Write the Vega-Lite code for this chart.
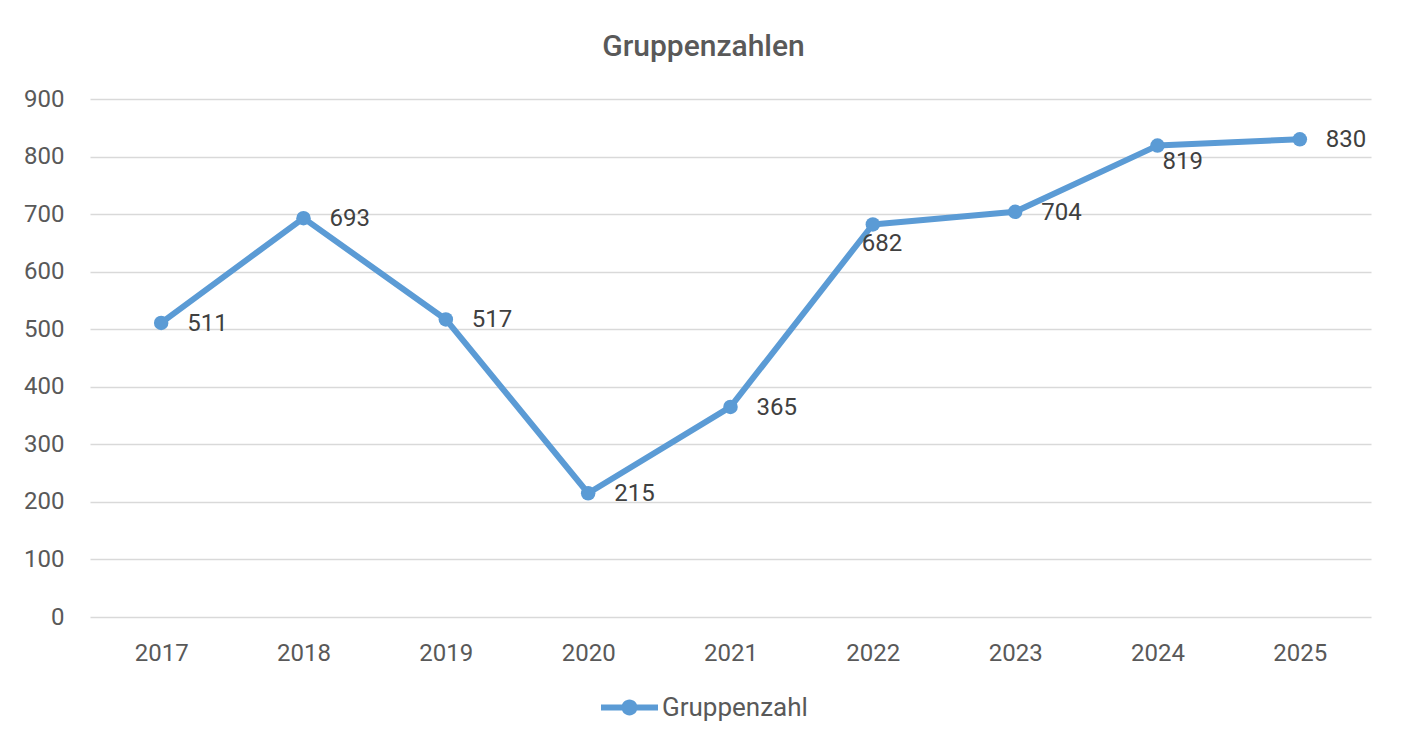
{
  "$schema": "https://vega.github.io/schema/vega-lite/v6.json",
  "autosize": {"type": "none"},
  "width": 1281,
  "height": 518,
  "padding": {"left": 90, "top": 99, "right": 34, "bottom": 127},
  "background": "white",
  "config": {
    "font": "Roboto",
    "view": {"stroke": null},
    "axis": {"labelFont": "Roboto", "labelColor": "#595959", "labelFontSize": 24, "ticks": false, "domain": false, "title": null},
    "legend": {"labelFont": "Roboto", "labelColor": "#595959", "labelFontSize": 26}
  },
  "title": {
    "text": "Gruppenzahlen",
    "anchor": "middle",
    "dx": -27,
    "fontSize": 30,
    "fontWeight": 500,
    "color": "#595959",
    "baseline": "alphabetic",
    "offset": 1
  },
  "data": {
    "values": [
      {"year": "2017", "value": 511},
      {"year": "2018", "value": 693},
      {"year": "2019", "value": 517},
      {"year": "2020", "value": 215},
      {"year": "2021", "value": 365},
      {"year": "2022", "value": 682},
      {"year": "2023", "value": 704},
      {"year": "2024", "value": 819},
      {"year": "2025", "value": 830}
    ]
  },
  "encoding": {
    "x": {
      "field": "year",
      "type": "ordinal",
      "scale": {"type": "point", "padding": 0.5},
      "axis": {"labelAngle": 0, "labelPadding": 24, "grid": false}
    },
    "y": {
      "field": "value",
      "type": "quantitative",
      "scale": {"domain": [0, 900]},
      "axis": {"values": [0, 100, 200, 300, 400, 500, 600, 700, 800, 900], "labelPadding": 26, "grid": true, "gridColor": "#D9D9D9", "gridWidth": 1.5}
    }
  },
  "layer": [
    {
      "mark": {"type": "line", "strokeWidth": 6, "strokeCap": "round", "strokeJoin": "round"},
      "encoding": {
        "color": {
          "datum": "Gruppenzahl",
          "scale": {"range": ["#5B9BD5"]},
          "legend": {
            "orient": "none",
            "legendX": 511,
            "legendY": 580,
            "title": null,
            "symbolType": "M-1,-0.105 L1,-0.105 L1,0.105 L-1,0.105 Z M-0.28,0 A0.28,0.28 0 1,1 0.28,0 A0.28,0.28 0 1,1 -0.28,0 Z",
            "symbolSize": 3249,
            "symbolFillColor": "#5B9BD5",
            "symbolStrokeWidth": 0,
            "labelOffset": 4
          }
        }
      }
    },
    {
      "mark": {"type": "point", "filled": true, "size": 210, "opacity": 1, "color": "#5B9BD5"}
    },
    {
      "transform": [{"filter": "datum.year != '2022' && datum.year != '2024'"}],
      "mark": {"type": "text", "align": "left", "baseline": "middle", "dx": 26, "dy": 1, "fontSize": 24, "color": "#404040"},
      "encoding": {"text": {"field": "value", "type": "quantitative"}}
    },
    {
      "transform": [{"filter": "datum.year == '2024'"}],
      "mark": {"type": "text", "align": "left", "baseline": "middle", "dx": 5, "dy": 16, "fontSize": 24, "color": "#404040"},
      "encoding": {"text": {"field": "value", "type": "quantitative"}}
    },
    {
      "transform": [{"filter": "datum.year == '2022'"}],
      "mark": {"type": "text", "align": "left", "baseline": "middle", "dx": -11, "dy": 20, "fontSize": 24, "color": "#404040"},
      "encoding": {"text": {"field": "value", "type": "quantitative"}}
    }
  ]
}
